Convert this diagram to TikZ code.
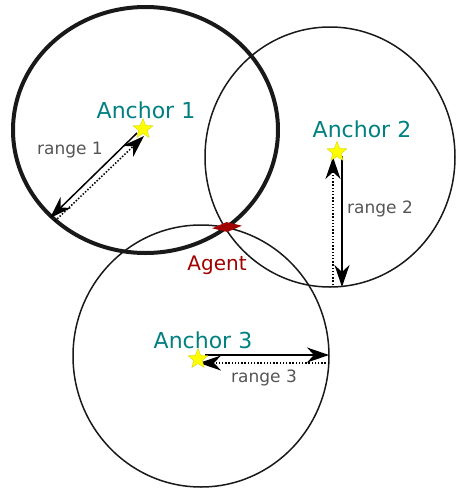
\documentclass[tikz,border=0pt]{standalone}
\usepackage{fontspec}
\setmainfont{DejaVu Sans}
\usetikzlibrary{shapes.geometric,arrows.meta}
\definecolor{anchorteal}{HTML}{008080}
\definecolor{rangegray}{HTML}{555555}
\definecolor{agentred}{HTML}{A00000}
\definecolor{staryellow}{HTML}{FFFF00}
\begin{document}
\begin{tikzpicture}[x=1pt,y=-1pt,
  rangecircle/.style={ellipse,draw=black!90,line width=1.5pt,inner sep=0pt},
  rangearrow/.style={line width=1.5pt,-{Stealth[length=22pt,width=15pt,inset=7pt]}},
  dottedarrow/.style={rangearrow,dash pattern=on 1.5pt off 1.7pt},
  anchorstar/.style={star,star points=5,star point ratio=2.3,fill=staryellow,draw=staryellow!80!black,line width=0.3pt,minimum size=21pt,inner sep=0pt},
  anchorlabel/.style={text=anchorteal,font=\fontsize{22}{26}\selectfont,inner sep=0pt},
  rangelabel/.style={text=rangegray,font=\fontsize{17}{20}\selectfont,inner sep=0pt},
  agentlabel/.style={text=agentred,font=\fontsize{20}{24}\selectfont,inner sep=0pt}]
\useasboundingbox (0,0) rectangle (456,488);

% range circles
\node[rangecircle,line width=4pt,minimum width=265pt,minimum height=246pt] (c1) at (145.5,130) {};
\node[rangecircle,minimum width=250pt,minimum height=260pt] (c2) at (330,157) {};
\node[rangecircle,minimum width=256pt,minimum height=262pt] (c3) at (201,356) {};

% anchor positions
\coordinate (a1) at (143,129);
\coordinate (a2) at (337,152);
\coordinate (a3) at (198,359);

% range 1 arrows
\coordinate (r1s) at (137,133);
\coordinate (r1e) at (50,218);
\coordinate (r1d) at (55,221);
\coordinate (r1t) at (144,136);
\draw[rangearrow] (r1s) -- (r1e);
\draw[dottedarrow] (r1d) -- (r1t);

% range 2 arrows
\coordinate (r2s) at (342,156);
\coordinate (r2e) at (342,287);
\coordinate (r2d) at (333,285);
\coordinate (r2t) at (333,157);
\draw[rangearrow] (r2s) -- (r2e);
\draw[dottedarrow] (r2d) -- (r2t);

% range 3 arrows
\coordinate (r3s) at (205,355);
\coordinate (r3e) at (329,355);
\coordinate (r3d) at (329,363);
\coordinate (r3t) at (199,363);
\draw[rangearrow] (r3s) -- (r3e);
\draw[dottedarrow] (r3d) -- (r3t);

% anchors
\node[anchorstar] (s1) at (a1) {};
\node[anchorstar] (s2) at (a2) {};
\node[anchorstar] (s3) at (a3) {};

% agent
\node[diamond,fill=agentred,minimum width=30pt,minimum height=10pt,inner sep=0pt,rotate=5] (agent) at (227,227) {};

% labels
\node[anchorlabel] (t1) at (146,110) {Anchor 1};
\node[anchorlabel] (t2) at (362,129) {Anchor 2};
\node[anchorlabel] (t3) at (203,340) {Anchor 3};
\node[rangelabel] (l1) at (70,150) {range 1};
\node[rangelabel] (l2) at (380,209) {range 2};
\node[rangelabel] (l3) at (264,378) {range 3};
\node[agentlabel] (tag) at (217,265) {Agent};
\end{tikzpicture}
\end{document}
